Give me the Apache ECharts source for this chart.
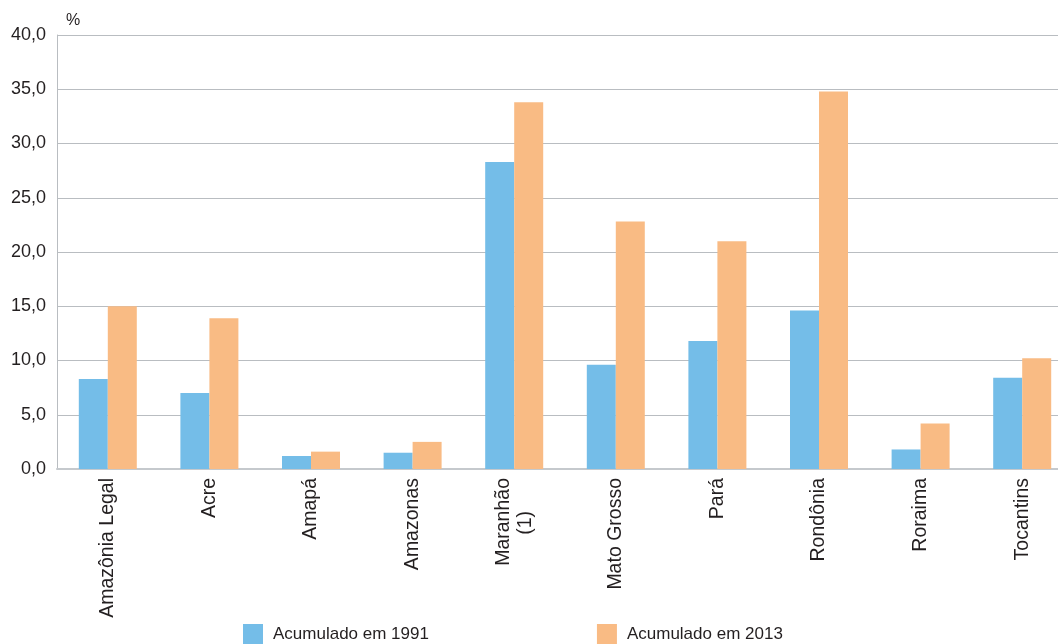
<!DOCTYPE html>
<html>
<head>
<meta charset="utf-8">
<script src="https://cdn.jsdelivr.net/npm/echarts@6/dist/echarts.min.js"></script>
<style>
  html, body { margin: 0; padding: 0; background: #fff; overflow: hidden; }
  #chart { width: 1080px; height: 644px; }
</style>
</head>
<body>
<div id="chart"></div>
<script>
const categories = ["Amazônia Legal", "Acre", "Amapá", "Amazonas", "Maranhão\n(1)", "Mato Grosso", "Pará", "Rondônia", "Roraima", "Tocantins"]
const seriesNames = ["Acumulado em 1991", "Acumulado em 2013"]
const values1991 = [8.3, 7.0, 1.2, 1.5, 28.3, 9.6, 11.8, 14.6, 1.8, 8.4]
const values2013 = [15.0, 13.9, 1.6, 2.5, 33.8, 22.8, 21.0, 34.8, 4.2, 10.2]

const font = "Liberation Sans, Arial, sans-serif"
const textColor = "#231f20"

// second line of a two-line label sits roughly centred under the first
function labelFormat(v) {
  const lines = v.split("\n")
  if (lines.length === 1) return v
  return lines[0] + "\n" + lines.slice(1).map((s) => "{p|" + s + "}").join("\n")
}

const chart = echarts.init(document.getElementById("chart"))
chart.setOption({
  animation: false,
  textStyle: { fontFamily: font, color: textColor },
  grid: { left: 57, top: 35, width: 1016, bottom: 175 },
  legend: {
    left: 243,
    top: 624,
    padding: 0,
    itemWidth: 20,
    itemHeight: 20,
    itemGap: 168,
    icon: "rect",
    textStyle: { fontFamily: font, fontSize: 17, color: textColor, padding: [0, 0, 0, 5] },
    data: seriesNames
  },
  xAxis: {
    type: "category",
    data: categories,
    axisLine: { lineStyle: { color: "#c5c9cd", width: 2 } },
    axisTick: { show: false },
    axisLabel: {
      rotate: 90,
      margin: 9,
      fontSize: 19.5,
      color: textColor,
      fontFamily: font,
      lineHeight: 22,
      formatter: labelFormat,
      rich: {
        p: { fontSize: 19.5, lineHeight: 22, color: textColor, fontFamily: font, padding: [0, 33, 0, 0] }
      }
    }
  },
  yAxis: {
    type: "value",
    min: 0,
    max: 40,
    interval: 5,
    name: "%",
    nameLocation: "end",
    nameGap: 6,
    nameTextStyle: { fontSize: 16, color: textColor, fontFamily: font, align: "left", padding: [0, 0, 0, 9] },
    axisLine: { show: true, lineStyle: { color: "#b9bdc1", width: 1 } },
    axisTick: { show: false },
    splitLine: { lineStyle: { color: "#b9bdc1", width: 1 } },
    axisLabel: {
      fontSize: 18,
      color: textColor,
      fontFamily: font,
      margin: 11,
      formatter: (v) => v.toFixed(1).replace(".", ",")
    }
  },
  series: [
    {
      name: seriesNames[0],
      type: "bar",
      data: values1991,
      barWidth: 29,
      barGap: "0%",
      itemStyle: { color: "#74bde8" }
    },
    {
      name: seriesNames[1],
      type: "bar",
      data: values2013,
      barWidth: 29,
      itemStyle: { color: "#f9bb84" }
    }
  ]
})
</script>
</body>
</html>
